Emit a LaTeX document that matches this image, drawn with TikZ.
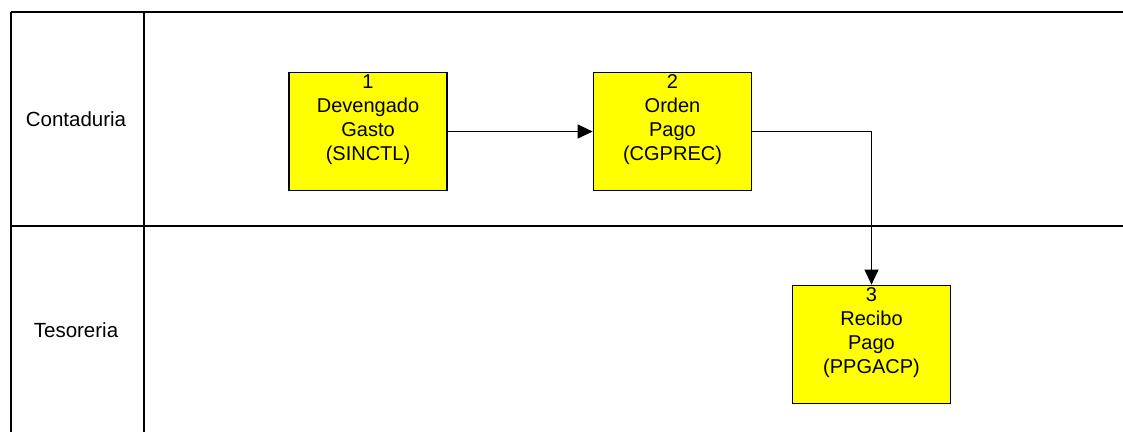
\documentclass[tikz,border=0pt]{standalone}
\usepackage{fontspec}
\setmainfont{Liberation Sans}
\usepackage{tikz}
\usetikzlibrary{arrows.meta}
\usetikzlibrary{calc}
\definecolor{procyellow}{RGB}{255,255,0}

\newcommand{\boxtext}[1]{\parbox[c][118pt][t]{158pt}{\centering\vspace*{2.5pt}\fontsize{20}{24}\selectfont #1}}

\begin{document}
\begin{tikzpicture}[x=1pt,y=1pt,
  lane/.style={line width=1.5pt},
  procbox/.style={draw,line width=1.7pt,fill=procyellow,inner sep=0pt},
  flow/.style={line width=1pt,-{Triangle[length=15pt,width=14pt]}},
  lanelabel/.style={font=\fontsize{20.5}{24}\selectfont}]
 \useasboundingbox (0,0) rectangle (1123,432);
 \pgfmathsetmacro{\laneTop}{420}
  \pgfmathsetmacro{\laneMid}{206}
  \draw[lane] (11,\laneTop) -- (1123,\laneTop);
  \draw[lane] (11,\laneMid) -- (1123,\laneMid);
  \foreach \x in {11,144}{
   \draw[lane] (\x,\laneTop) -- (\x,0);
}
\node[lanelabel] (contaduria) at (76,313) {Contaduria};
\node[lanelabel] (tesoreria) at (76,102) {Tesoreria};
\node[procbox] (p1) at (368,300.5) {\boxtext{1\\Devengado\\Gasto\\(SINCTL)}};
\node[procbox] (p2) at (672.5,300.5) {\boxtext{2\\Orden\\Pago\\(CGPREC)}};
\node[procbox] (p3) at (871.5,87.5) {\boxtext{3\\Recibo\\Pago\\(PPGACP)}};
\draw[flow] (p1.east) -- (p2.west);
\draw[flow] (p2.east) -| (p3.north);
\end{tikzpicture}
\end{document}
